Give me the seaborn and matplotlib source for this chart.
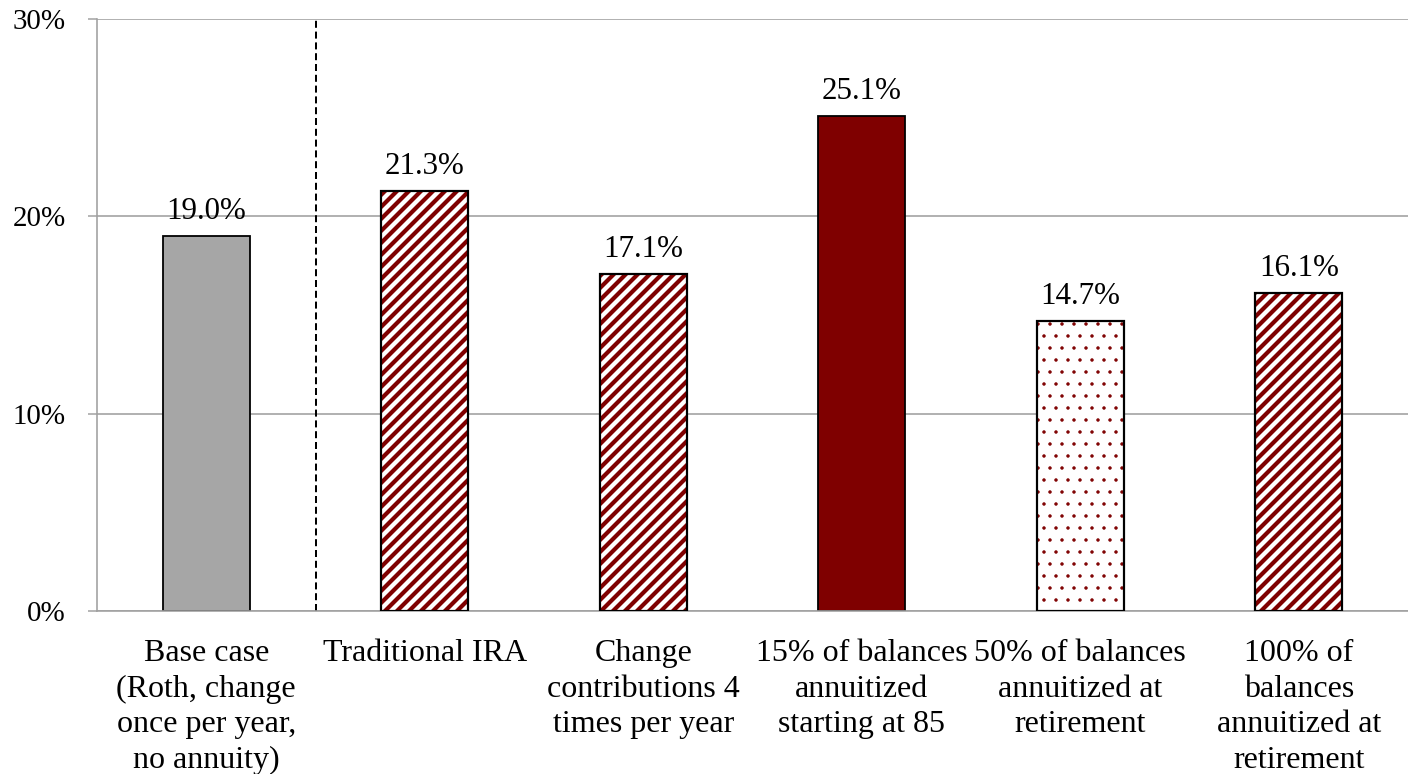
import matplotlib
matplotlib.use("Agg")
import matplotlib.pyplot as plt
from matplotlib.patches import Rectangle
from matplotlib.ticker import FixedLocator, FuncFormatter
import pandas as pd
import seaborn as sns

# Scenario labels and the resulting rates (percent)
categories = [
    "Base case\n(Roth, change\nonce per year,\nno annuity)",
    "Traditional IRA",
    "Change\ncontributions 4\ntimes per year",
    "15% of balances\nannuitized\nstarting at 85",
    "50% of balances\nannuitized at\nretirement",
    "100% of\nbalances\nannuitized at\nretirement",
]
values = [19.0, 21.3, 17.1, 25.1, 14.7, 16.1]
y_ticks = [0, 10, 20, 30]

# Bar styling
DARK_RED = "#7F0000"
GRID_GRAY = "#A0A0A0"
fills = ["#A6A6A6", "white", "white", DARK_RED, "white", "white"]
hatches = [None, "////", "////", None, "..", "////"]
hatch_widths = [None, 2.1, 2.1, None, 0.5, 2.1]

sns.set_theme(style="white")
plt.rcParams["font.family"] = ["Liberation Serif", "DejaVu Serif"]
plt.rcParams["hatch.linewidth"] = 2.1
FS_CAT = 16
FS_VAL = 15.5
FS_Y = 14.5

DPI = 144
fig = plt.figure(figsize=(1408 / DPI, 774 / DPI), dpi=DPI)
ax = fig.add_axes([97 / 1408, 1 - 611 / 774, 1 - 97 / 1408, (611 - 19) / 774])

df = pd.DataFrame({"scenario": categories, "rate": values})
sns.barplot(data=df, x="scenario", y="rate", hue="scenario", palette=fills,
            saturation=1, width=0.4, legend=False, ax=ax, zorder=2)

bars = [p for p in ax.patches if isinstance(p, Rectangle)]
for bar, fc, h, hw in zip(bars, fills, hatches, hatch_widths):
    if h:
        bar.set_facecolor("white")
        bar.set_edgecolor(DARK_RED)
        bar.set_linewidth(0)
        bar.set_hatch(h)
        if hasattr(bar, "set_hatch_linewidth"):
            bar.set_hatch_linewidth(hw)
        else:
            bar._hatch_linewidth = hw
        outline = Rectangle((bar.get_x(), bar.get_y()), bar.get_width(), bar.get_height(),
                            fill=False, edgecolor="black", linewidth=1.1, zorder=3)
        ax.add_patch(outline)
    else:
        bar.set_edgecolor("black")
        bar.set_linewidth(0.9)

for cont in ax.containers:
    ax.bar_label(cont, fmt="{:.1f}%", padding=5, fontsize=FS_VAL, color="black")

# Separator between the base case and the alternatives
ax.axvline(0.5, color="black", linewidth=1.0, dashes=(3.5, 1.9), zorder=1)

ax.set_xlim(-0.5, 5.5)
ax.set_ylim(0, 30)
ax.yaxis.set_major_locator(FixedLocator(y_ticks))
ax.yaxis.set_major_formatter(FuncFormatter(lambda v, _: f"{v:.0f}%"))
ax.xaxis.set_minor_locator(FixedLocator([i - 0.5 for i in range(len(categories) + 1)]))

ax.set_xlabel("")
ax.set_ylabel("")
ax.set_xticks(range(len(categories)))
ax.set_xticklabels(categories, fontsize=FS_CAT, linespacing=1.3, color="black")
ax.tick_params(axis="x", which="major", length=0, pad=14)
ax.tick_params(axis="x", which="minor", length=4.5, width=0.75, color=GRID_GRAY, direction="out")
ax.tick_params(axis="y", which="major", length=4.5, width=0.75, color=GRID_GRAY,
               labelsize=FS_Y, labelcolor="black", pad=11, left=True)

ax.yaxis.grid(True, color=GRID_GRAY, linewidth=0.8)
ax.set_axisbelow(True)
for side in ("top", "right"):
    ax.spines[side].set_visible(False)
for side in ("left", "bottom"):
    ax.spines[side].set_color(GRID_GRAY)
    ax.spines[side].set_linewidth(0.8)

fig.savefig("out.png", dpi=DPI)
